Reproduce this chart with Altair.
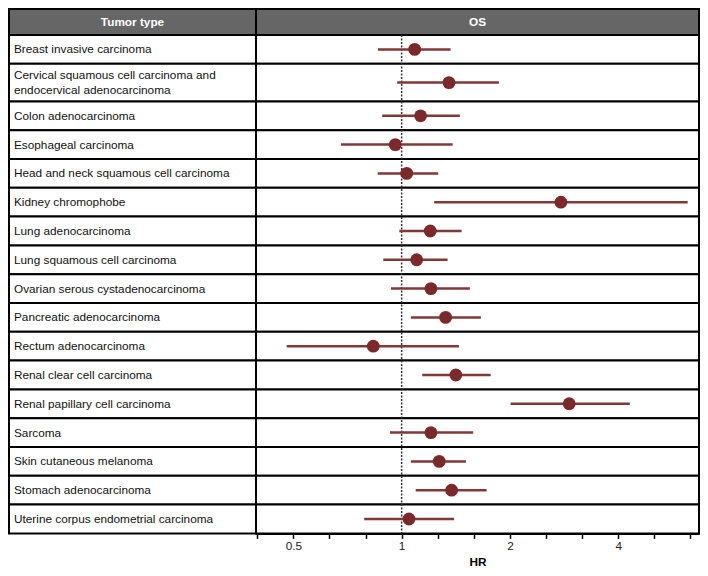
import altair as alt
import pandas as pd

# ---------------- data ----------------
tumor_types = [
    "Breast invasive carcinoma",
    "Cervical squamous cell carcinoma and\nendocervical adenocarcinoma",
    "Colon adenocarcinoma",
    "Esophageal carcinoma",
    "Head and neck squamous cell carcinoma",
    "Kidney chromophobe",
    "Lung adenocarcinoma",
    "Lung squamous cell carcinoma",
    "Ovarian serous cystadenocarcinoma",
    "Pancreatic adenocarcinoma",
    "Rectum adenocarcinoma",
    "Renal clear cell carcinoma",
    "Renal papillary cell carcinoma",
    "Sarcoma",
    "Skin cutaneous melanoma",
    "Stomach adenocarcinoma",
    "Uterine corpus endometrial carcinoma",
]
hr = [1.087, 1.354, 1.129, 0.960, 1.033, 2.772, 1.201, 1.101, 1.206,
      1.325, 0.834, 1.415, 2.923, 1.206, 1.272, 1.377, 1.048]
hr_lower = [0.859, 0.972, 0.883, 0.678, 0.858, 1.232, 0.985, 0.889, 0.934,
            1.061, 0.479, 1.141, 2.009, 0.928, 1.061, 1.094, 0.787]
hr_upper = [1.368, 1.864, 1.452, 1.386, 1.264, 6.240, 1.468, 1.342, 1.548,
            1.661, 1.443, 1.768, 4.310, 1.581, 1.509, 1.723, 1.398]
header_left = "Tumor type"
header_right = "OS"
x_tick_values = [0.397, 0.5, 0.63, 0.794, 1, 1.26, 1.587, 2, 2.52, 3.175, 4, 5.04, 6.35]
x_label_values = [0.5, 1, 2, 4]
x_title = "HR"

# ---------------- layout / style ----------------
FONT = "Liberation Sans"
FS = 11.8
LINE_H = 15
HEADER_H = 26
ROW_H = 28.8
EXTRA_LINE_H = 8.8
LEFT_W = 247
RIGHT_W = 443
W = LEFT_W + RIGHT_W
HEADER_FILL = "#666666"
DOT_COLOR = "#7a2a2a"
CI_COLOR = "#803838"

df = pd.DataFrame({"tumor": tumor_types, "hr": hr, "lo": hr_lower, "hi": hr_upper})
df["lines"] = df["tumor"].str.count("\n") + 1
df["h"] = ROW_H + EXTRA_LINE_H * (df["lines"] - 1)
df["bottom"] = HEADER_H + df["h"].cumsum()
df["top"] = df["bottom"] - df["h"]
df["mid"] = (df["top"] + df["bottom"]) / 2
df["text_y"] = df["mid"] - (df["lines"] - 1) * LINE_H / 2
TOTAL = float(df["bottom"].iloc[-1])

hdr = pd.DataFrame({"left": [header_left], "right": [header_right],
                    "top": [0.0], "bottom": [HEADER_H], "mid": [HEADER_H / 2]})
ref = pd.DataFrame({"ref": [1.0], "top": [HEADER_H], "bottom": [TOTAL]})

yscale = alt.Scale(domain=[0, TOTAL], reverse=True, nice=False, zero=False)


def Y(f):
    return alt.Y(f"{f}:Q", scale=yscale, axis=None)


def Y2(f):
    return alt.Y2(f"{f}:Q")


# ---------------- table cells ----------------
def cells(data, x0, x1, fill):
    return alt.Chart(data).mark_rect(fill=fill, stroke="black", strokeWidth=2).encode(
        x=alt.value(x0), x2=alt.value(x1), y=Y("top"), y2=Y2("bottom"))


l_hdr_rect = cells(hdr, 0, LEFT_W, HEADER_FILL)
r_hdr_rect = cells(hdr, LEFT_W, W, HEADER_FILL)
l_rows = cells(df, 0, LEFT_W, "white")
r_rows = cells(df, LEFT_W, W, "white")

l_hdr_text = alt.Chart(hdr).mark_text(color="white", font=FONT, fontSize=FS, fontWeight="bold",
                                      align="center", baseline="middle").encode(
    x=alt.value(LEFT_W / 2), y=Y("mid"), text="left:N")
r_hdr_text = alt.Chart(hdr).mark_text(color="white", font=FONT, fontSize=FS, fontWeight="bold",
                                      align="center", baseline="middle").encode(
    x=alt.value(LEFT_W + RIGHT_W / 2), y=Y("mid"), text="right:N")
l_text = alt.Chart(df).mark_text(color="#111111", font=FONT, fontSize=FS, align="left",
                                 baseline="middle", lineBreak="\n", lineHeight=LINE_H).encode(
    x=alt.value(5), y=Y("text_y"), text="tumor:N")

# ---------------- forest plot ----------------
xscale = alt.Scale(type="log", domain=[0.3936, 6.71], nice=False, range=[LEFT_W, W])
label_test = " || ".join(f"datum.value == {v}" for v in x_label_values)
xaxis = alt.Axis(values=x_tick_values, labelExpr=f"({label_test}) ? '' + datum.value : ''",
                 title=x_title, titleFont=FONT, titleFontSize=FS, titleFontWeight="bold",
                 titleColor="black", titlePadding=4, labelFont=FONT, labelFontSize=FS,
                 labelColor="#222222", labelPadding=2, tickSize=5, tickColor="black",
                 tickWidth=1.5, domainColor="black", domainWidth=2, grid=False)

r_ref = alt.Chart(ref).mark_rule(color="#333333", strokeWidth=1.5, strokeDash=[2, 1.5]).encode(
    x=alt.X("ref:Q", scale=xscale, axis=xaxis), y=Y("top"), y2=Y2("bottom"))
r_ci = alt.Chart(df).mark_rule(color=CI_COLOR, strokeWidth=2.5).encode(
    x=alt.X("lo:Q", scale=xscale, axis=xaxis), x2="hi:Q", y=Y("mid"))
r_pt = alt.Chart(df).mark_circle(color=DOT_COLOR, opacity=1, size=165).encode(
    x=alt.X("hr:Q", scale=xscale, axis=xaxis), y=Y("mid"))

chart = alt.layer(
    l_hdr_rect, r_hdr_rect, l_rows, r_rows, l_hdr_text, r_hdr_text, l_text, r_ref, r_ci, r_pt
).properties(
    width=W, height=TOTAL,
    padding={"left": 0, "top": 0, "right": 0, "bottom": -2},
).configure_view(stroke=None)

chart.save("out.html", embed_options={"renderer": "svg", "actions": False})
